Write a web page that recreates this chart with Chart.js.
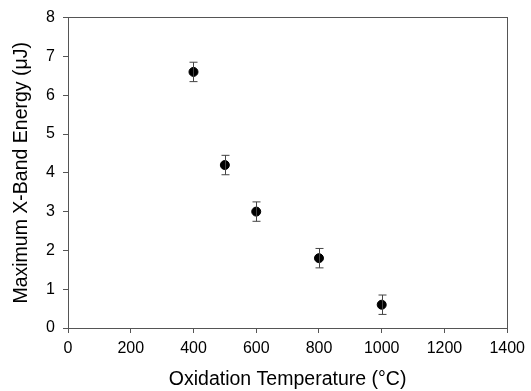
<!DOCTYPE html>
<html>
<head>
<meta charset="utf-8">
<style>
  html, body { margin: 0; padding: 0; background: #fff; }
  #wrap { width: 531px; height: 391px; }
</style>
</head>
<body>
<div id="wrap"><canvas id="energyChart" width="531" height="391"></canvas></div>
<script src="https://cdn.jsdelivr.net/npm/chart.js"></script>
<script>
var temperatures = [400, 500, 600, 800, 1000];
var energies = [6.6, 4.2, 3.0, 1.8, 0.6];
var errors = [0.25, 0.25, 0.25, 0.25, 0.25];
var xTicks = [0, 200, 400, 600, 800, 1000, 1200, 1400];
var yTicks = [0, 1, 2, 3, 4, 5, 6, 7, 8];

var axisColor = '#555555';
var font = { family: 'Liberation Sans, Arial, sans-serif', size: 16 };
var titleFont = { family: 'Liberation Sans, Arial, sans-serif', size: 19.5 };

document.addEventListener('DOMContentLoaded', function () {
    var ctx = document.getElementById('energyChart').getContext('2d');

    // vertical error bars with caps
    var errorBars = {
        id: 'errorBars',
        afterDatasetsDraw: function (chart) {
            var c = chart.ctx;
            var xs = chart.scales.x, ys = chart.scales.y;
            c.save();
            c.strokeStyle = '#444444';
            c.lineWidth = 1;
            temperatures.forEach(function (t, i) {
                var px = Math.round(xs.getPixelForValue(t)) + 0.5;
                var top = ys.getPixelForValue(energies[i] + errors[i]);
                var bot = ys.getPixelForValue(energies[i] - errors[i]);
                c.beginPath();
                c.moveTo(px, top); c.lineTo(px, bot);
                c.moveTo(px - 4, top); c.lineTo(px + 4, top);
                c.moveTo(px - 4, bot); c.lineTo(px + 4, bot);
                c.stroke();
            });
            c.restore();
        }
    };

    new Chart(ctx, {
        type: 'scatter',
        data: {
            datasets: [{
                label: 'Energy',
                data: temperatures.map(function (t, i) { return { x: t, y: energies[i] }; }),
                backgroundColor: '#000000',
                borderColor: '#000000',
                pointRadius: 4.5,
                pointHoverRadius: 4.5
            }]
        },
        options: {
            responsive: false,
            animation: false,
            layout: { padding: { top: 17, right: 19, left: 0, bottom: 0 } },
            plugins: { legend: { display: false }, tooltip: { enabled: false } },
            scales: {
                x: {
                    type: 'linear', min: 0, max: 1400,
                    afterBuildTicks: function (axis) { axis.ticks = xTicks.map(function (v) { return { value: v }; }); },
                    afterFit: function (axis) { axis.height = 63; },
                    grid: { drawOnChartArea: false, drawTicks: true, tickLength: 5, color: axisColor },
                    border: { color: axisColor, width: 1 },
                    ticks: { color: '#000', font: font, padding: 6, maxRotation: 0,
                             callback: function (v) { return String(v); } },
                    title: { display: true, text: 'Oxidation Temperature (°C)', color: '#000',
                             font: titleFont, padding: { top: 0, bottom: 0 } }
                },
                y: {
                    type: 'linear', min: 0, max: 8,
                    afterBuildTicks: function (axis) { axis.ticks = yTicks.map(function (v) { return { value: v }; }); },
                    afterFit: function (axis) { axis.width = 68; },
                    grid: { drawOnChartArea: false, drawTicks: true, tickLength: 5, color: axisColor },
                    border: { color: axisColor, width: 1 },
                    ticks: { color: '#000', font: font, padding: 8,
                             callback: function (v) { return String(v); } },
                    title: { display: true, text: 'Maximum X-Band Energy (\u03bcJ)', color: '#000',
                             font: titleFont, padding: { top: 10, bottom: 0 } }
                },
                x2: {
                    type: 'linear', position: 'top', min: 0, max: 1400,
                    afterFit: function (axis) { axis.height = 0; },
                    grid: { display: false }, ticks: { display: false },
                    border: { color: axisColor, width: 1 }
                },
                y2: {
                    type: 'linear', position: 'right', min: 0, max: 8,
                    afterFit: function (axis) { axis.width = 0; },
                    grid: { display: false }, ticks: { display: false },
                    border: { color: axisColor, width: 1 }
                }
            }
        },
        plugins: [errorBars]
    });
});
</script>
</body>
</html>
